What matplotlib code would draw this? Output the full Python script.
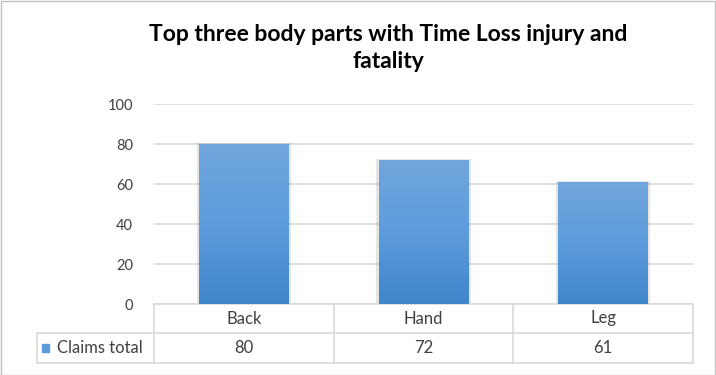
import numpy as np
import matplotlib.pyplot as plt
from matplotlib.patches import Rectangle
from matplotlib.colors import LinearSegmentedColormap
from matplotlib.transforms import blended_transform_factory

categories = ["Back", "Hand", "Leg"]
claims_total = [80, 72, 61]
series_name = "Claims total"
title = "Top three body parts with Time Loss injury and\nfatality"

plt.rcParams['font.family'] = ['Lato', 'DejaVu Sans']
W, H = 716, 375
fig = plt.figure(figsize=(W / 100, H / 100), dpi=100)

# plot area in pixels
x0, x1, ytop, ybot = 154, 693, 104, 304
ax = fig.add_axes([x0 / W, 1 - ybot / H, (x1 - x0) / W, (ybot - ytop) / H])

grid_c = "#d9d9d9"
text_c = "#404040"
x = np.arange(len(categories))
bars = ax.bar(x, claims_total, width=0.5, color="#5b9bd5", zorder=2)

# vertical gradient inside each bar, lighter at top
grad = np.linspace(0, 1, 256).reshape(-1, 1)
cmap = LinearSegmentedColormap.from_list("g", ["#3f86cb", "#5d9cdc", "#71a6dd"])
for b in bars:
    bx, bw, bh = b.get_x(), b.get_width(), b.get_height()
    # soft shadow
    ax.add_patch(Rectangle((bx - 0.012, 0), bw + 0.024, bh + 0.6, color="#000000",
                           alpha=0.10, lw=0, zorder=1.5))
    im = ax.imshow(grad, extent=(bx, bx + bw, 0, bh), origin="lower", cmap=cmap,
                   aspect="auto", zorder=3)
    im.set_clip_path(b)

ax.set_xlim(-0.5, len(categories) - 0.5)
ax.set_ylim(0, 100)
ax.set_yticks(range(0, 101, 20))
ax.yaxis.grid(True, color=grid_c, lw=1.2, zorder=0)
ax.set_axisbelow(True)
ax.set_xticks([])
for s in ax.spines.values():
    s.set_visible(False)
ax.tick_params(axis="y", length=0, pad=15, labelsize=10.5, labelcolor=text_c)

# data table drawn under the axes
tr = blended_transform_factory(ax.transData, ax.transAxes)
row1 = (ybot - 333) / (ybot - ytop)
row2 = (ybot - 363) / (ybot - ytop)
left = (37 - x0) / (x1 - x0)
lk = dict(color=grid_c, lw=1.2, clip_on=False)
ax.plot([-0.5, len(categories) - 0.5], [0, 0], transform=tr, **lk)
ax.plot([left, 1], [row1, row1], transform=ax.transAxes, **lk)
ax.plot([left, 1], [row2, row2], transform=ax.transAxes, **lk)
ax.plot([left, left], [row1, row2], transform=ax.transAxes, **lk)
for b in np.arange(len(categories) + 1) - 0.5:
    ax.plot([b, b], [0, row2], transform=tr, **lk)
for i, (c, v) in enumerate(zip(categories, claims_total)):
    ax.text(i, row1 / 2, c, transform=tr, ha="center", va="center",
            fontsize=12, color=text_c)
    ax.text(i, (row1 + row2) / 2, str(v), transform=tr, ha="center", va="center",
            fontsize=12, color=text_c)
# legend key + series name
ax.add_patch(Rectangle((left + 0.01, (row1 + row2) / 2 - 0.02), 0.013, 0.04,
                       transform=ax.transAxes, color="#5b9bd5", clip_on=False))
ax.text(left + 0.037, (row1 + row2) / 2, series_name, transform=ax.transAxes,
        ha="left", va="center", fontsize=12, color=text_c)

fig.text(388 / W, 1 - 48 / H, title, ha="center", va="center", fontsize=16.5,
         fontweight="bold", color="black", linespacing=1.3)

# chart border
fig.patches.append(Rectangle((0.5 / W, 0.5 / H), 1 - 1.5 / W, 1 - 1.5 / H,
                             transform=fig.transFigure, fill=False,
                             edgecolor="#bfbfbf", lw=1))

fig.savefig("out.png", dpi=100)
